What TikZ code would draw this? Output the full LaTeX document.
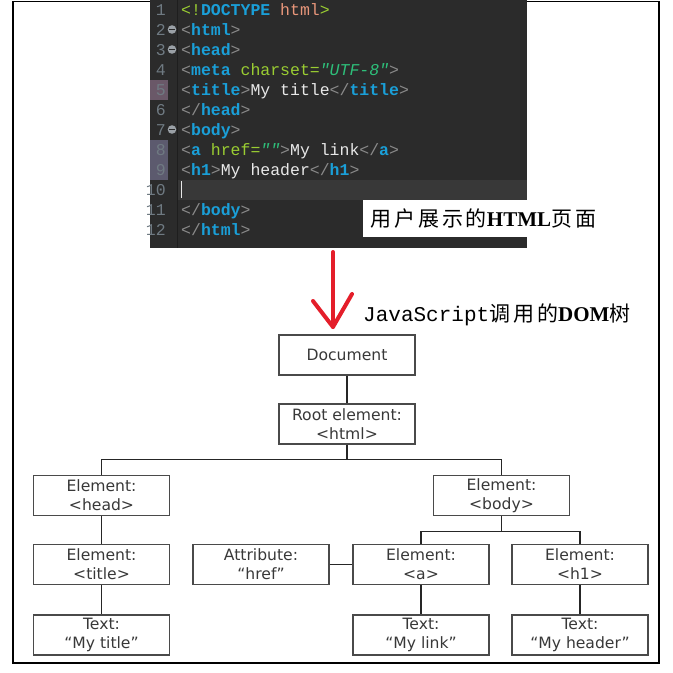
\documentclass[tikz,border=0pt]{standalone}
\usepackage{fontspec}
\usepackage{xcolor}
\setmainfont{DejaVu Sans}
\newfontfamily\codefont{Liberation Mono}
\newfontfamily\cjkfont{Noto Sans CJK SC}[LetterSpace=14]
\newfontfamily\capmono{Liberation Mono}
\newfontfamily\capserif{Liberation Serif}
\newfontfamily\domfont{DejaVu Sans}

\definecolor{codebg}{HTML}{2B2B2B}
\definecolor{curline}{HTML}{383838}
\definecolor{gutline}{HTML}{1E1E1E}
\definecolor{numgray}{HTML}{6F7A82}
\definecolor{brkgray}{HTML}{8A8A8A}
\definecolor{tagblue}{HTML}{1A9FD8}
\definecolor{attrgreen}{HTML}{9ACD32}
\definecolor{valgreen}{HTML}{2EBF7A}
\definecolor{doctxt}{HTML}{E8967A}
\definecolor{plaintxt}{HTML}{E8E8E8}
\definecolor{markgray}{HTML}{9AA0A6}
\definecolor{gutmauve}{HTML}{6A5868}
\definecolor{gutviolet}{HTML}{5C5A6E}
\definecolor{boxgray}{HTML}{4A4A4A}
\definecolor{domtext}{HTML}{383838}
\definecolor{arrowred}{HTML}{E41E2A}

\newcommand{\bk}[1]{\textcolor{brkgray}{#1}}
\newcommand{\tg}[1]{\textcolor{tagblue}{\bfseries #1}}
\newcommand{\atr}[1]{\textcolor{attrgreen}{#1}}
\newcommand{\vl}[1]{\textcolor{valgreen}{\itshape #1}}
\newcommand{\tx}[1]{\textcolor{plaintxt}{#1}}

\begin{document}
\begin{tikzpicture}[x=1pt,y=1pt]
\tikzset{
    codeline/.style={%
        anchor=base west,
        inner sep=0pt,
        font=\codefont\fontsize{16.5}{20}\selectfont
        },
    lnum/.style={%
        anchor=base east,
        inner sep=0pt,
        text=numgray,
        font=\codefont\fontsize{16.5}{20}\selectfont
        },
    domnode/.style={%
        draw=boxgray, line width=1.3pt,
        rectangle,
        minimum height=40pt,
        minimum width=136pt,
        inner sep=0pt,
        align=center,
        text=domtext,
        font=\domfont\fontsize{15.6}{19}\selectfont
        },
    link/.style={draw=black!85, line width=1.2pt},
    caption/.style={text=black, inner sep=0pt, font=\fontsize{21}{25}\selectfont},
    redstroke/.style={draw=arrowred, line width=4pt, line cap=round, line join=round},
}
\useasboundingbox (0,0) rectangle (673,-673);
%%%FRAME
\draw[line width=1.5pt] (13,-1.5) rectangle (659,-663);
%%%EDITOR
\fill[codebg] (150,0) rectangle (527,-248);
\fill[curline] (177,-179.5) rectangle (527,-199.5);
\fill[gutmauve] (150,-79.5) rectangle (168,-99.5);
\fill[gutviolet] (150,-139.5) rectangle (168,-179.5);
\draw[gutline, line width=1pt] (177.5,0) -- (177.5,-248);
\foreach \n in {1,...,12}
    \node[lnum] (ln\n) at (166,{-15-20*(\n-1)}) {\n};
\foreach \n in {2,3,7} {
    \fill[markgray] (172,{-9.5-20*(\n-1)}) circle (4.3);
    \draw[codebg, line width=1.3pt] (169.3,{-9.5-20*(\n-1)}) -- (174.7,{-9.5-20*(\n-1)});
}
\node[codeline] (cl1) at (181,-15) {\atr{<!}\tg{DOCTYPE}\textcolor{doctxt}{\ html}\atr{>}};
\node[codeline] (cl2) at (181,-35) {\bk{<}\tg{html}\bk{>}};
\node[codeline] (cl3) at (181,-55) {\bk{<}\tg{head}\bk{>}};
\node[codeline] (cl4) at (181,-75) {\bk{<}\tg{meta}\atr{\ charset=}\vl{"UTF-8"}\bk{>}};
\node[codeline] (cl5) at (181,-95) {\bk{<}\tg{title}\bk{>}\tx{My title}\bk{</}\tg{title}\bk{>}};
\node[codeline] (cl6) at (181,-115) {\bk{</}\tg{head}\bk{>}};
\node[codeline] (cl7) at (181,-135) {\bk{<}\tg{body}\bk{>}};
\node[codeline] (cl8) at (181,-155) {\bk{<}\tg{a}\atr{\ href=}\vl{""}\bk{>}\tx{My link}\bk{</}\tg{a}\bk{>}};
\node[codeline] (cl9) at (181,-175) {\bk{<}\tg{h1}\bk{>}\tx{My header}\bk{</}\tg{h1}\bk{>}};
\node[codeline] (cl11) at (181,-215) {\bk{</}\tg{body}\bk{>}};
\node[codeline] (cl12) at (181,-235) {\bk{</}\tg{html}\bk{>}};
\draw[plaintxt, line width=1.8pt] (181.5,-181) -- (181.5,-198);
%%%CAPTIONS
\node[caption, fill=white, anchor=west, minimum height=37pt, inner xsep=7pt] (htmlcap) at (363,-218.5)
    {{\cjkfont 用户展示的}{\capserif\bfseries HTML}{\cjkfont 页面}};
\node[caption, anchor=west] (jscap) at (363,-315)
    {{\capmono JavaScript}{\cjkfont 调用的}{\capserif\bfseries DOM}{\cjkfont 树}};
%%%ARROW
\coordinate (arrtop) at (333,-252);
\coordinate (arrtip) at (333,-327);
\coordinate (arrleft) at (313,-301);
\coordinate (arrright) at (352,-294);
\draw[redstroke] (arrtop) -- (arrtip);
\draw[redstroke] (arrleft) -- (arrtip) -- (arrright);
%%%DOM TREE
\node[domnode] (doc) at (347,-355) {Document};
\node[domnode] (root) at (347,-424) {Root element:\\<html>};
\node[domnode] (head) at (101.5,-495.5) {Element:\\<head>};
\node[domnode] (body) at (501.5,-495.5) {Element:\\<body>};
\node[domnode] (title) at (101.5,-564.5) {Element:\\<title>};
\node[domnode] (attr) at (261,-564.5) {Attribute:\\“href”};
\node[domnode] (aelem) at (421,-564.5) {Element:\\<a>};
\node[domnode] (hone) at (580,-564.5) {Element:\\<h1>};
\node[domnode] (ttitle) at (101.5,-635) {Text:\\“My title”};
\node[domnode] (tlink) at (421,-635) {Text:\\“My link”};
\node[domnode] (theader) at (580,-635) {Text:\\“My header”};
%%%LINKS
\draw[link] (doc) -- (root);
\draw[link] (root.south) -- ++(0,-15) -| (head.north);
\draw[link] (root.south) -- ++(0,-15) -| (body.north);
\draw[link] (head) -- (title);
\draw[link] (title) -- (ttitle);
\draw[link] (body.south) -- ++(0,-15) -| (aelem.north);
\draw[link] (body.south) -- ++(0,-15) -| (hone.north);
\draw[link] (attr) -- (aelem);
\draw[link] (aelem) -- (tlink);
\draw[link] (hone) -- (theader);
\end{tikzpicture}
\end{document}
